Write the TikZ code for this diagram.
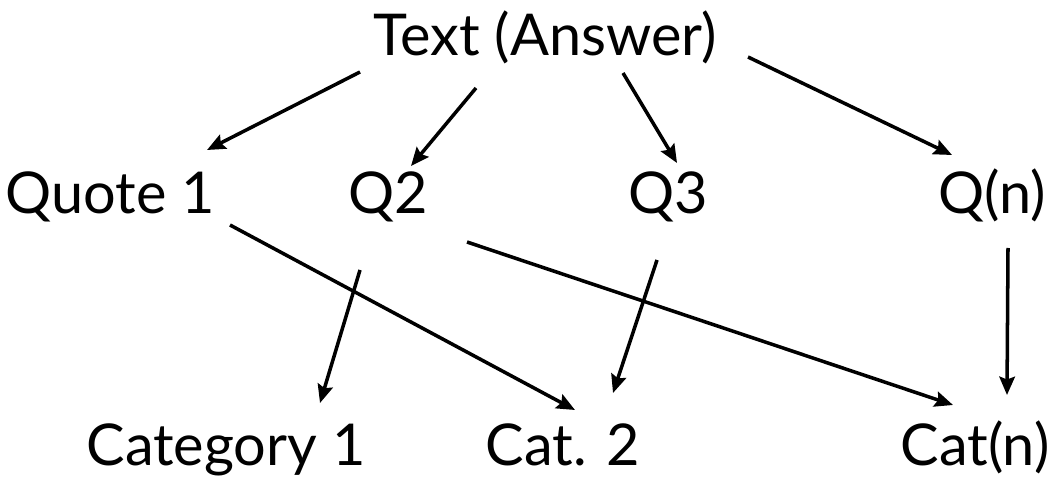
\documentclass[tikz,border=0pt]{standalone}
\usepackage{fontspec}
\setmainfont{Lato}
\usepackage{tikz}
\usetikzlibrary{arrows.meta, positioning}

\begin{document}
\begin{tikzpicture}[
  x=0.025cm, y=-0.025cm,
  label/.style={anchor=base, inner sep=0pt, font=\fontsize{41}{48}\selectfont},
  line/.style={draw=black, line width=2.5pt, -{Stealth[length=13pt, width=11pt, inset=2pt]}}
]
  \useasboundingbox (0,0) rectangle (1063,477);

  % Answer
  \node[label] (txt) at (545,56) {Text (Answer)};

  % Quotes
  \node[label] (q1) at (110,214) {Quote 1};
  \node[label] (q2) at (388,214) {Q2};
  \node[label] (q3) at (668,214) {Q3};
  \node[label] (qn) at (992,214) {Q(n)};

  % Categories
  \node[label] (c1) at (226,465) {Category 1};
  \node[label] (c2) at (563,465) {Cat. 2};
  \node[label] (cn) at (975,465) {Cat(n)};

  % Connections
  \path[line] ([shift={(-185,16)}]txt.base) -- ([shift={(97,-64)}]q1.base);
  \path[line] ([shift={(-69,32)}]txt.base) -- ([shift={(23,-48)}]q2.base);
  \path[line] ([shift={(78,17)}]txt.base) -- ([shift={(9,-51)}]q3.base);
  \path[line] ([shift={(203,1)}]txt.base) -- ([shift={(-40,-59)}]qn.base);
  \path[line] ([shift={(120,11)}]q1.base) -- ([shift={(12,-55)}]c2.base);
  \path[line] ([shift={(79,28)}]q2.base) -- ([shift={(-22,-60)}]cn.base);
  \path[line] ([shift={(-28,56)}]q2.base) -- ([shift={(94,-62)}]c1.base);
  \path[line] ([shift={(-11,46)}]q3.base) -- ([shift={(50,-72)}]c2.base);
  \path[line] ([shift={(16,34)}]qn.base) -- ([shift={(32,-70)}]cn.base);

\end{tikzpicture}
\end{document}
